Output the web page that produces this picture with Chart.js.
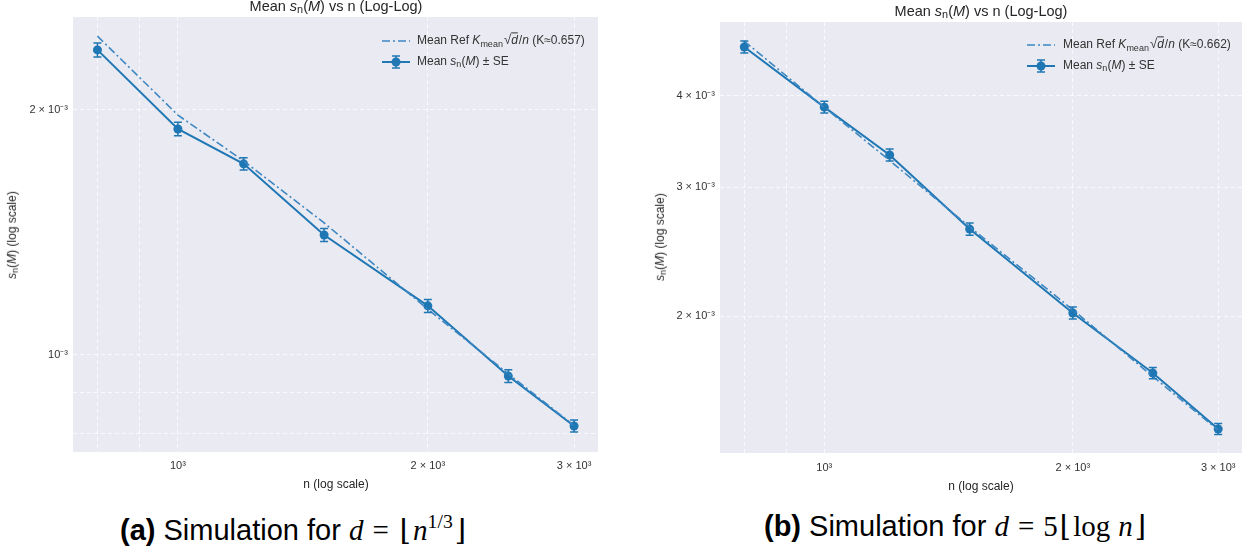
<!DOCTYPE html>
<html>
<head>
<meta charset="utf-8">
<script src="https://cdn.jsdelivr.net/npm/chart.js@4.4.1/dist/chart.umd.min.js"></script>
<style>
  body { margin: 0; background: #fff; }
  #wrap { position: relative; width: 1248px; height: 552px; overflow: hidden; font-family: "Liberation Sans", Arial, sans-serif; color: #262626; }
  .panel { position: absolute; top: 0; }
  .c { position: absolute; white-space: nowrap; transform: translate(-50%, -50%); line-height: 1; }
  .rot { transform: translate(-50%, -50%) rotate(-90deg); }
  .title { font-size: 14.5px; }
  .axt { font-size: 12px; }
  .leg { position: absolute; font-size: 12px; white-space: nowrap; line-height: 1; color: #333; }
  .leg svg { position: absolute; }
  .leg span.t { position: absolute; transform: translateY(-50%); }
  sub { font-size: 0.75em; vertical-align: -0.25em; }
  sup { font-size: 0.68em; vertical-align: 0.6em; }
  .sq { font-size: 1.1em; margin-left: 1px; }
  .ov { text-decoration: overline; padding-right: 1px; }
  .cap { position: absolute; font-size: 29px; white-space: nowrap; line-height: 1; color: #000; }
  .cap .m { font-family: "Liberation Serif", "DejaVu Serif", serif; font-style: italic; }
  .cap .r { font-family: "Liberation Serif", "DejaVu Serif", serif; }
  .cap .eq { margin: 0 9px; }
  .cap .fl { margin: 0 2px; }
</style>
</head>
<body>
<div id="wrap">
  <div class="panel" style="left:0"><canvas id="chartA" width="620" height="500"></canvas></div>
  <div class="panel" style="left:620px"><canvas id="chartB" width="628" height="500"></canvas></div>

  <div class="c title" style="left:336px;top:7px">Mean <i>s</i><sub>n</sub>(<i>M</i>) vs n (Log-Log)</div>
  <div class="c title" style="left:981px;top:12px">Mean <i>s</i><sub>n</sub>(<i>M</i>) vs n (Log-Log)</div>

  <div class="c axt" style="left:336px;top:484px">n (log scale)</div>
  <div class="c axt" style="left:981px;top:486px">n (log scale)</div>
  <div class="c axt rot" style="left:13px;top:235px"><i>s</i><sub>n</sub>(<i>M</i>) (log scale)</div>
  <div class="c axt rot" style="left:661px;top:237px"><i>s</i><sub>n</sub>(<i>M</i>) (log scale)</div>

  <div class="leg" style="left:382px;top:41px">
    <svg width="30" height="16" style="left:0;top:-8px"><line x1="0" y1="8" x2="28" y2="8" stroke="#3d87c2" stroke-width="1.6" stroke-dasharray="8,3,2,3"/></svg>
    <span class="t" style="left:35px">Mean Ref <i>K</i><sub>mean</sub><span class="sq">√</span><i class="ov">d</i>/<i>n</i> (K≈0.657)</span>
  </div>
  <div class="leg" style="left:382px;top:62px">
    <svg width="30" height="16" style="left:0;top:-8px"><line x1="0" y1="8" x2="28" y2="8" stroke="#1f77b4" stroke-width="2"/><line x1="14" y1="2" x2="14" y2="14" stroke="#1f77b4" stroke-width="1.5"/><line x1="10" y1="2" x2="18" y2="2" stroke="#1f77b4" stroke-width="1.5"/><line x1="10" y1="14" x2="18" y2="14" stroke="#1f77b4" stroke-width="1.5"/><circle cx="14" cy="8" r="4.5" fill="#1f77b4"/></svg>
    <span class="t" style="left:35px">Mean <i>s</i><sub>n</sub>(<i>M</i>) ± SE</span>
  </div>

  <div class="leg" style="left:1027px;top:45px">
    <svg width="30" height="16" style="left:0;top:-8px"><line x1="0" y1="8" x2="28" y2="8" stroke="#3d87c2" stroke-width="1.6" stroke-dasharray="8,3,2,3"/></svg>
    <span class="t" style="left:36px">Mean Ref <i>K</i><sub>mean</sub><span class="sq">√</span><i class="ov">d</i>/<i>n</i> (K≈0.662)</span>
  </div>
  <div class="leg" style="left:1027px;top:66px">
    <svg width="30" height="16" style="left:0;top:-8px"><line x1="0" y1="8" x2="28" y2="8" stroke="#1f77b4" stroke-width="2"/><line x1="14" y1="2" x2="14" y2="14" stroke="#1f77b4" stroke-width="1.5"/><line x1="10" y1="2" x2="18" y2="2" stroke="#1f77b4" stroke-width="1.5"/><line x1="10" y1="14" x2="18" y2="14" stroke="#1f77b4" stroke-width="1.5"/><circle cx="14" cy="8" r="4.5" fill="#1f77b4"/></svg>
    <span class="t" style="left:36px">Mean <i>s</i><sub>n</sub>(<i>M</i>) ± SE</span>
  </div>

  <div class="cap" style="left:120px;top:512px"><b>(a)</b> Simulation for <span class="m">d</span><span class="r eq">=</span><span class="r fl">⌊</span><span class="m">n</span><sup class="r">1/3</sup><span class="r fl">⌋</span></div>
  <div class="cap" style="left:764px;top:512px"><b>(b)</b> Simulation for <span class="m">d</span><span class="r eq">=</span><span class="r">5</span><span class="r fl">⌊</span><span class="r">log</span> <span class="m">n</span><span class="r fl">⌋</span></div>
</div>

<script>
// valores
var nValues = [800, 1000, 1200, 1500, 2000, 2500, 3000];

var meanA = [2.370e-3, 1.895e-3, 1.717e-3, 1.404e-3, 1.149e-3, 0.942e-3, 0.818e-3];
var seA   = [0.047e-3, 0.036e-3, 0.030e-3, 0.026e-3, 0.021e-3, 0.017e-3, 0.014e-3];
var refA  = [2.464e-3, 1.971e-3, 1.731e-3, 1.453e-3, 1.138e-3, 0.948e-3, 0.819e-3];

var meanB = [4.667e-3, 3.862e-3, 3.322e-3, 2.630e-3, 2.019e-3, 1.671e-3, 1.401e-3];
var seB   = [0.088e-3, 0.072e-3, 0.062e-3, 0.050e-3, 0.038e-3, 0.030e-3, 0.024e-3];
var refB  = [4.754e-3, 3.860e-3, 3.264e-3, 2.648e-3, 2.040e-3, 1.653e-3, 1.396e-3];

var xTicks = [800, 900, 1000, 2000, 3000];
var xTickLabels = { 1000: '10³', 2000: '2 × 10³', 3000: '3 × 10³' };
var yTicksA = [0.8e-3, 0.9e-3, 1e-3, 2e-3];
var yTickLabelsA = ['', '', '10⁻³', '2 × 10⁻³'];
var yTicksB = [2e-3, 3e-3, 4e-3];
var yTickLabelsB = ['2 × 10⁻³', '3 × 10⁻³', '4 × 10⁻³'];

var LINE = '#1f77b4';
var REF = '#3d87c2';
var GRID = 'rgba(255,255,255,0.75)';

// fundo cinza da área do gráfico
var plotBg = {
    id: 'plotBg',
    beforeDraw: function (chart) {
        var a = chart.chartArea, ctx = chart.ctx;
        ctx.save();
        ctx.fillStyle = '#eaeaf2';
        ctx.fillRect(a.left, a.top, a.right - a.left, a.bottom - a.top);
        ctx.restore();
    }
};

// barras de erro (± SE) desenhadas com as escalas do chart
var errorBars = {
    id: 'errorBars',
    afterDatasetsDraw: function (chart) {
        var ctx = chart.ctx, xs = chart.scales.x, ys = chart.scales.y;
        chart.data.datasets.forEach(function (ds) {
            if (!ds.errors) return;
            ctx.save();
            ctx.strokeStyle = ds.borderColor;
            ctx.lineWidth = 1.5;
            ds.data.forEach(function (p, i) {
                var px = xs.getPixelForValue(p.x);
                var y1 = ys.getPixelForValue(p.y - ds.errors[i]);
                var y2 = ys.getPixelForValue(p.y + ds.errors[i]);
                ctx.beginPath();
                ctx.moveTo(px, y1); ctx.lineTo(px, y2);
                ctx.moveTo(px - 4, y1); ctx.lineTo(px + 4, y1);
                ctx.moveTo(px - 4, y2); ctx.lineTo(px + 4, y2);
                ctx.stroke();
            });
            ctx.restore();
        });
    }
};

function makeChart(id, mean, se, ref, yTicks, yLabels, yMin, yMax, pad, yWidth, xHeight, xPad) {
    var ctx = document.getElementById(id).getContext('2d');
    return new Chart(ctx, {
        type: 'line',
        data: {
            datasets: [{
                label: 'ref',
                data: nValues.map(function (n, i) { return { x: n, y: ref[i] }; }),
                borderColor: REF,
                borderWidth: 1.6,
                borderDash: [8, 3, 2, 3],
                pointRadius: 0,
                fill: false
            }, {
                label: 'mean',
                data: nValues.map(function (n, i) { return { x: n, y: mean[i] }; }),
                errors: se,
                borderColor: LINE,
                backgroundColor: LINE,
                borderWidth: 2,
                pointRadius: 4.5,
                pointBackgroundColor: LINE,
                pointBorderWidth: 0,
                fill: false
            }]
        },
        options: {
            responsive: false,
            animation: false,
            layout: { padding: pad },
            plugins: { legend: { display: false }, tooltip: { enabled: false } },
            scales: {
                x: {
                    type: 'logarithmic',
                    min: 747.6,
                    max: 3206,
                    afterBuildTicks: function (s) { s.ticks = xTicks.map(function (v) { return { value: v }; }); },
                    afterFit: function (s) { s.height = xHeight; },
                    grid: { color: GRID, lineWidth: 1, drawTicks: false },
                    border: { display: false, dash: [4, 3] },
                    ticks: {
                        autoSkip: false, maxRotation: 0, padding: xPad, color: '#333',
                        font: { family: 'Liberation Sans', size: 11 },
                        callback: function (v) { return xTickLabels[v] || ''; }
                    }
                },
                y: {
                    type: 'logarithmic',
                    min: yMin,
                    max: yMax,
                    afterBuildTicks: function (s) { s.ticks = yTicks.map(function (v) { return { value: v }; }); },
                    afterFit: function (s) { s.width = yWidth; },
                    grid: { color: GRID, lineWidth: 1, drawTicks: false },
                    border: { display: false, dash: [4, 3] },
                    ticks: {
                        autoSkip: false, padding: 5, color: '#333',
                        font: { family: 'Liberation Sans', size: 11 },
                        callback: function (v) {
                            var i = yTicks.indexOf(v);
                            return i >= 0 ? yLabels[i] : '';
                        }
                    }
                }
            }
        },
        plugins: [plotBg, errorBars]
    });
}

makeChart('chartA', meanA, seA, refA, yTicksA, yTickLabelsA, 0.760e-3, 2.601e-3,
    { top: 17, right: 22, left: 0, bottom: 0 }, 73, 48, 7);
makeChart('chartB', meanB, seB, refB, yTicksB, yTickLabelsB, 1.299e-3, 5.05e-3,
    { top: 22, right: 6, left: 0, bottom: 0 }, 100, 47, 8);
</script>
</body>
</html>
